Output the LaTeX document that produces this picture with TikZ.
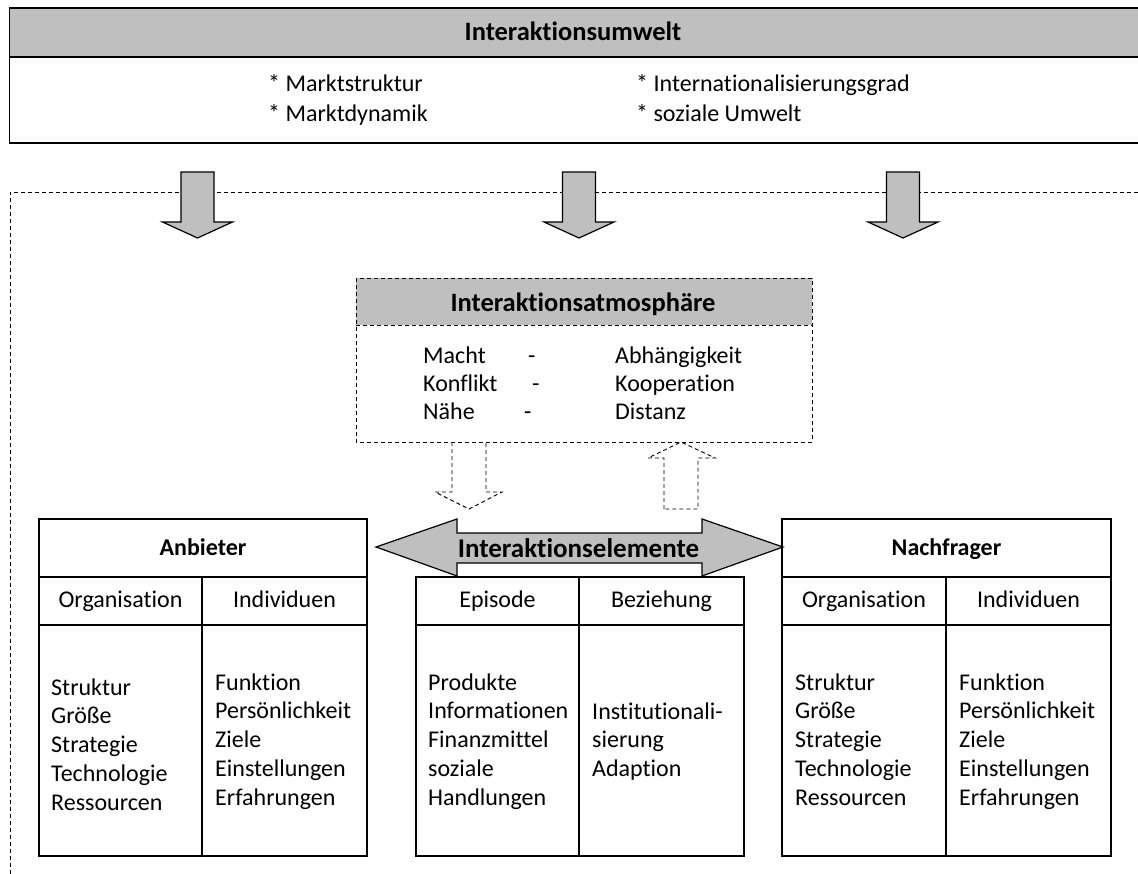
\documentclass[tikz,border=0pt]{standalone}
\usepackage{fontspec}
\setmainfont[Ligatures={NoCommon}]{Carlito}
\definecolor{boxgray}{RGB}{191,191,191}
\begin{document}
\begin{tikzpicture}[x=1pt,y=-1pt,
  txt/.style={inner sep=0pt, font=\fontsize{24}{28}\selectfont},
  hdr/.style={inner sep=0pt, font=\fontsize{24}{28}\selectfont\bfseries},
  bighdr/.style={inner sep=0pt, font=\fontsize{26.5}{30}\selectfont\bfseries},
  frame/.style={draw=black, line width=1.8pt},
  thinframe/.style={draw=black, line width=1.4pt},
  dsh/.style={draw=black, line width=0.9pt, dash pattern=on 4pt off 3pt},
  blockarrow/.style={draw=black, line width=1.2pt, fill=boxgray, line join=miter},
]
\useasboundingbox (0,0) rectangle (1138,874);

% environment box at the top (open to the right)
\fill[boxgray] (9.5,8) rectangle (1138,57);
\draw[thinframe] (1138,8) -- (9.5,8) -- (9.5,143) -- (1138,143);
\draw[thinframe] (9.5,57) -- (1138,57);
\node[bighdr, anchor=base] (umwelt) at (573,41) {Interaktionsumwelt};
\node[txt, anchor=base west] (u1) at (268,92) {* Marktstruktur};
\node[txt, anchor=base west] (u2) at (268,122) {* Marktdynamik};
\node[txt, anchor=base west] (u3) at (636,92) {* Internationalisierungsgrad};
\node[txt, anchor=base west] (u4) at (636,122) {* soziale Umwelt};

% dashed frame of the interaction system
\draw[dsh] (10,874) -- (10,192) -- (1138,192);

% influence arrows from the environment
\foreach \cx in {197.5,579,903}{
  \draw[blockarrow] ({\cx-16.5},172) -- ({\cx+16.5},172) -- ({\cx+16.5},222)
    -- ({\cx+35},222) -- (\cx,238) -- ({\cx-35},222) -- ({\cx-16.5},222) -- cycle;
}

% atmosphere box
\fill[white] (356,278) rectangle (812,442);
\fill[boxgray] (356,278) rectangle (812,325);
\draw[dsh] (356,278) rectangle (812,442);
\draw[dsh] (356,325) -- (812,325);
\node[bighdr, anchor=base] (atmo) at (583,312) {Interaktionsatmosphäre};
\node[txt, anchor=base west] (a1) at (423,364) {Macht};
\node[txt, anchor=base west] (a2) at (423,392) {Konflikt};
\node[txt, anchor=base west] (a3) at (423,420) {Nähe};
\node[txt, anchor=base west] (d1) at (528,364) {-};
\node[txt, anchor=base west] (d2) at (532,392) {-};
\node[txt, anchor=base west] (d3) at (524,420) {-};
\node[txt, anchor=base west] (b1) at (615,364) {Abhängigkeit};
\node[txt, anchor=base west] (b2) at (615,392) {Kooperation};
\node[txt, anchor=base west] (b3) at (615,420) {Distanz};

% dashed arrows between atmosphere and elements
\draw[dsh] (452,442) -- (452,492) -- (435,492) -- (469,509) -- (502,492) -- (486,492) -- (486,442);
\draw[dsh] (664,509) -- (664,458) -- (648,458) -- (681,442) -- (715,458) -- (698,458) -- (698,509) -- cycle;

% double arrow of the interaction elements
\draw[blockarrow] (376,547) -- (457,519) -- (457,533) -- (702,533) -- (702,519) -- (783,547)
  -- (702,576) -- (702,563) -- (457,563) -- (457,576) -- cycle;
\node[inner sep=0pt, font=\fontsize{27}{31}\selectfont\bfseries, anchor=base] (elem) at (578.5,557) {Interaktionselemente};

% supplier table
\draw[frame] (39,519) rectangle (367,856);
\draw[frame] (39,577) -- (367,577);
\draw[frame] (39,625) -- (367,625);
\draw[frame] (202,577) -- (202,856);
\node[hdr, anchor=base] (anb) at (203,555) {Anbieter};
\node[txt, anchor=base] (anbo) at (120.5,607.5) {Organisation};
\node[txt, anchor=base] (anbi) at (284.5,607.5) {Individuen};
\foreach \t [count=\i] in {Struktur,Größe,Strategie,Technologie,Ressourcen}
  \node[txt, anchor=base west] (anbl\i) at (51,{695+28.75*(\i-1)}) {\t};
\foreach \t [count=\i] in {Funktion,Persönlichkeit,Ziele,Einstellungen,Erfahrungen}
  \node[txt, anchor=base west] (anbr\i) at (215,{690+28.75*(\i-1)}) {\t};

% elements table
\draw[frame] (416,577) rectangle (744,856);
\draw[frame] (416,625) -- (744,625);
\draw[frame] (579,577) -- (579,856);
\node[txt, anchor=base] (epi) at (497.5,607.5) {Episode};
\node[txt, anchor=base] (bez) at (661.5,607.5) {Beziehung};
\foreach \t [count=\i] in {Produkte,Informationen,Finanzmittel,soziale,Handlungen}
  \node[txt, anchor=base west] (epil\i) at (428,{690+28.75*(\i-1)}) {\t};
\foreach \t [count=\i] in {Institutionali-,sierung,Adaption}
  \node[txt, anchor=base west] (bezl\i) at (592,{719+28.75*(\i-1)}) {\t};

% buyer table
\draw[frame] (782,519) rectangle (1111,856);
\draw[frame] (782,577) -- (1111,577);
\draw[frame] (782,625) -- (1111,625);
\draw[frame] (946,577) -- (946,856);
\node[hdr, anchor=base] (nach) at (946.5,555) {Nachfrager};
\node[txt, anchor=base] (nacho) at (864,607.5) {Organisation};
\node[txt, anchor=base] (nachi) at (1028.5,607.5) {Individuen};
\foreach \t [count=\i] in {Struktur,Größe,Strategie,Technologie,Ressourcen}
  \node[txt, anchor=base west] (nachl\i) at (795,{690+28.75*(\i-1)}) {\t};
\foreach \t [count=\i] in {Funktion,Persönlichkeit,Ziele,Einstellungen,Erfahrungen}
  \node[txt, anchor=base west] (nachr\i) at (959,{690+28.75*(\i-1)}) {\t};
\end{tikzpicture}
\end{document}
